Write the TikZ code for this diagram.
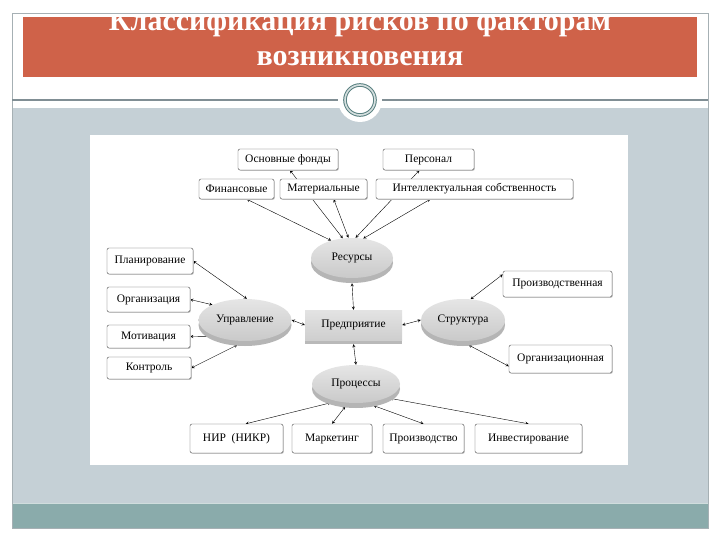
\documentclass[tikz,border=0pt]{standalone}
\usepackage{fontspec}
\setmainfont{Liberation Serif}
\usepackage{tikz}
\usetikzlibrary{shapes, arrows, positioning, calc, shadows}

\definecolor{titlered}{RGB}{207,98,73}
\definecolor{slidegray}{RGB}{197,208,214}
\definecolor{footteal}{RGB}{138,171,171}
\definecolor{framegray}{RGB}{128,142,148}
\definecolor{ringteal}{RGB}{88,128,128}

\pgfdeclarelayer{slide}
\pgfdeclarelayer{links}
\pgfsetlayers{slide,links,main}

\tikzset{
  title/.style={text=white, font=\fontsize{30}{32}\selectfont\bfseries, inner sep=0pt},
  item/.style={draw=black!70, rounded corners=2pt, fill=white, inner sep=1pt,
    font=\fontsize{11.5}{12}\selectfont,
    general shadow={fill=gray!45, shadow xshift=0.8pt, shadow yshift=-0.8pt}},
  disk/.style={ellipse, top color=gray!20, bottom color=gray!42, inner sep=1pt,
    font=\fontsize{11.5}{12}\selectfont,
    general shadow={fill=gray!58, shadow yshift=-5pt}},
  core/.style={rectangle, top color=gray!22, bottom color=gray!38, inner sep=1pt,
    font=\fontsize{11.5}{12}\selectfont,
    general shadow={fill=gray!55, shadow yshift=-4pt}},
  link/.style={<->, >=stealth, thin},
}

\begin{document}
\begin{tikzpicture}[x=1pt, y=-1pt]
    \useasboundingbox (0,0) rectangle (720,540);

    \begin{pgfonlayer}{slide}
        % Draw the slide frame
        \fill[slidegray] (12,108) rectangle (708,503);
        \fill[footteal] (12,503) rectangle (708,528);
        \draw[white!60!footteal, line width=1pt] (12,503.5) -- (708,503.5);
        \draw[framegray!70, line width=0.6pt] (12,13) rectangle (708,528);
        \fill[titlered] (23,17) rectangle (697,77);
        \draw[framegray, line width=1.2pt] (12,100) -- (708,100);
        \fill[white] (90,135) rectangle (628,465);

        % Draw the ornament
        \fill[white] (360,100) circle (22);
        \draw[ringteal, line width=1pt, double=white!75!ringteal, double distance=1.6pt] (360,100) circle (15);
    \end{pgfonlayer}

    % Title, cut by the red band
    \begin{scope}
        \clip (23,17) rectangle (697,77);
        \node[title, anchor=base] (title1) at (360,31) {Классификация рисков по факторам};
        \node[title, anchor=base] (title2) at (360,66) {возникновения};
    \end{scope}

    % Centre of the scheme
    \node[core, minimum width=97pt, minimum height=30pt] (predpr) at (353.5,325) {Предприятие};
    \node[disk, minimum width=82pt, minimum height=40pt] (res) at (352,258) {Ресурсы};
    \node[disk, minimum width=93pt, minimum height=42pt] (upr) at (245,320) {Управление};
    \node[disk, minimum width=84pt, minimum height=42pt] (struct) at (463,320) {Структура};
    \node[disk, minimum width=88pt, minimum height=38pt] (proc) at (356,384) {Процессы};

    % Resources
    \node[item, minimum width=100pt, minimum height=21pt] (fonds) at (288,159.5) {Основные фонды};
    \node[item, minimum width=91pt, minimum height=21pt] (pers) at (428.5,159.5) {Персонал};
    \node[item, minimum width=75pt, minimum height=20pt] (fin) at (236.5,189) {Финансовые};
    \node[item, minimum width=87pt, minimum height=20pt] (mat) at (323.5,189) {Материальные};
    \node[item, minimum width=197pt, minimum height=20pt] (intel) at (474.5,189) {Интеллектуальная собственность};

    % Management
    \node[item, minimum width=86pt, minimum height=26pt] (plan) at (150,261) {Планирование};
    \node[item, minimum width=83pt, minimum height=25pt] (orgn) at (148.5,299.5) {Организация};
    \node[item, minimum width=83pt, minimum height=23pt] (motiv) at (148.5,336.5) {Мотивация};
    \node[item, minimum width=84pt, minimum height=22pt] (kontr) at (149,368) {Контроль};

    % Structure
    \node[item, minimum width=109pt, minimum height=26pt] (prodn) at (557.5,284) {Производственная};
    \node[item, minimum width=103pt, minimum height=28pt] (orgz) at (560.5,359) {Организационная};

    % Processes
    \node[item, minimum width=93pt, minimum height=29pt] (nir) at (236.5,438.5) {НИР\enspace(НИКР)};
    \node[item, minimum width=80pt, minimum height=29pt] (mark) at (332,438.5) {Маркетинг};
    \node[item, minimum width=81pt, minimum height=29pt] (proizv) at (423.5,438.5) {Производство};
    \node[item, minimum width=107pt, minimum height=29pt] (invest) at (528.5,438.5) {Инвестирование};

    % Draw the links under the boxes
    \begin{pgfonlayer}{links}
        \draw[link] (fin.-45) -- (res.140);
        \draw[link] (fonds.-80) -- (res.115);
        \draw[link] (mat.-45) -- (res.100);
        \draw[link] (pers.-130) -- (res.80);
        \draw[link] (intel.193) -- (res.60);

        \draw[link] (plan.east) -- (upr.85);
        \draw[link] (orgn.east) -- (upr.155);
        \draw[link] (motiv.east) -- (upr.210);
        \draw[link] (kontr.east) -- ([yshift=-4pt]upr.250);

        \draw[link] (prodn.170) -- (struct.70);
        \draw[link] (orgz.188) -- ([yshift=-4pt]struct.-75);

        \draw[link] (upr.east) -- (predpr.west);
        \draw[link] (predpr.east) -- (struct.west);
        \draw[link] ([yshift=-5pt]res.south) -- (predpr.north);
        \draw[link] ([yshift=-4pt]predpr.south) -- (proc.north);

        \draw[link] (nir.58) -- ([yshift=-3pt]proc.212);
        \draw[link] (mark.north) -- ([yshift=-4pt]proc.240);
        \draw[link] (proizv.north) -- ([yshift=-4pt]proc.-45);
        \draw[link] (invest.north) -- ([yshift=-2pt]proc.-20);
    \end{pgfonlayer}
\end{tikzpicture}
\end{document}
